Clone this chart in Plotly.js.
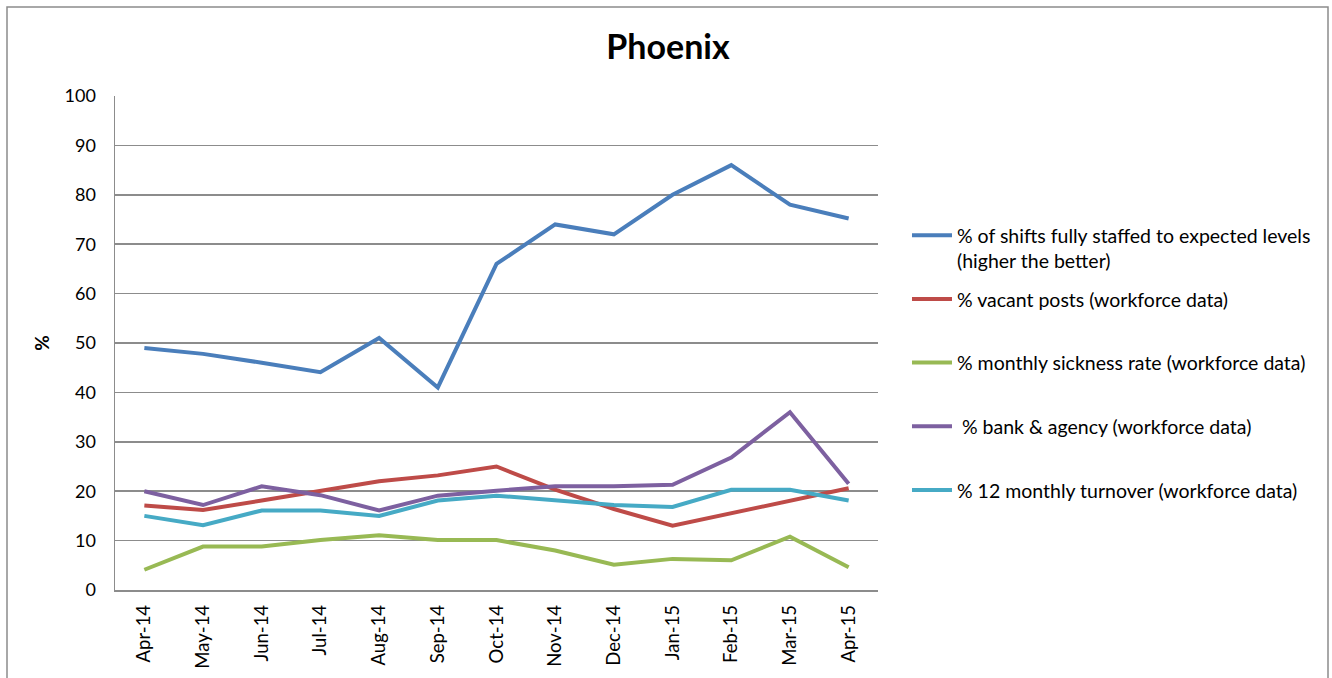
<!DOCTYPE html>
<html>
<head>
<meta charset="utf-8">
<script src="https://cdn.plot.ly/plotly-3.0.1.min.js"></script>
<style>
  html, body { margin: 0; padding: 0; background: #ffffff; }
  #chart { width: 1332px; height: 678px; }
</style>
</head>
<body>
<div id="chart"></div>
<script>
const months = ["Apr-14","May-14","Jun-14","Jul-14","Aug-14","Sep-14","Oct-14","Nov-14","Dec-14","Jan-15","Feb-15","Mar-15","Apr-15"];

const shiftsFullyStaffed = [49, 47.8, 46, 44.1, 51, 41, 66, 74, 72, 80, 86, 78, 75.2];
const vacantPosts        = [17.1, 16.2, 18.1, 20, 22, 23.2, 25, 20.3, 16.4, 13, 15.5, 18.1, 20.6];
const sicknessRate       = [4.1, 8.8, 8.8, 10.1, 11.1, 10.1, 10.1, 8, 5.1, 6.3, 6, 10.8, 4.6];
const bankAgency         = [20, 17.2, 21, 19.2, 16.1, 19.1, 20.1, 21, 21, 21.3, 26.8, 36, 21.5];
const turnover12         = [15, 13.1, 16.1, 16.1, 15, 18.1, 19.1, 18.1, 17.2, 16.8, 20.3, 20.3, 18.1];

const seriesNames = [
  "% of shifts fully staffed to expected levels<br>(higher the better)",
  "% vacant posts (workforce data)<br> ",
  "% monthly sickness rate (workforce data)<br> ",
  " % bank & agency (workforce data)<br> ",
  "% 12 monthly turnover (workforce data)<br> "
];
const seriesColors = ["#4a7ebb", "#be4b48", "#98b954", "#7d60a0", "#46aac5"];
const seriesValues = [shiftsFullyStaffed, vacantPosts, sicknessRate, bankAgency, turnover12];

const traces = seriesValues.map((vals, i) => ({
  type: "scatter",
  mode: "lines",
  x: months,
  y: vals,
  name: seriesNames[i],
  legendgroup: "g" + i,
  line: { color: seriesColors[i], width: 4 }
}));

const fontFam = "Lato, 'Liberation Sans', sans-serif";

const layout = {
  width: 1332,
  height: 678,
  margin: { l: 115, r: 454, t: 96, b: 88 },
  paper_bgcolor: "#ffffff",
  plot_bgcolor: "#ffffff",
  font: { family: fontFam, size: 18, color: "#000000" },
  title: {
    text: "<b>Phoenix</b>",
    font: { family: fontFam, size: 34, color: "#000000" },
    x: 0.5015, xref: "container", xanchor: "center",
    y: 0.931, yref: "container", yanchor: "middle"
  },
  xaxis: {
    type: "category",
    range: [-0.5, 12.5],
    tickangle: -90,
    showgrid: false,
    showline: true,
    linecolor: "#8c8c8c",
    linewidth: 1.5,
    ticks: "",
    ticklabelstandoff: 6,
    tickfont: { family: fontFam, size: 18.5, color: "#000000" },
    fixedrange: true
  },
  yaxis: {
    range: [0, 100],
    dtick: 10,
    showgrid: true,
    gridcolor: "#8c8c8c",
    gridwidth: 1.5,
    zeroline: false,
    showline: true,
    linecolor: "#8c8c8c",
    linewidth: 1.5,
    ticks: "",
    ticklabelstandoff: 14,
    tickfont: { family: fontFam, size: 18, color: "#000000" },
    title: { text: "<b>%</b>", font: { family: fontFam, size: 19, color: "#000000" }, standoff: 10 },
    fixedrange: true
  },
  showlegend: true,
  legend: {
    x: 1.038, xanchor: "left",
    y: 0.757, yanchor: "top",
    traceorder: "grouped",
    tracegroupgap: 10,
    valign: "top",
    itemwidth: 40,
    font: { family: fontFam, size: 19.5, color: "#000000" },
    bgcolor: "rgba(0,0,0,0)"
  },
  shapes: [{
    type: "rect", xref: "paper", yref: "paper",
    x0: (7 - 115) / 763, x1: (1328 - 115) / 763,
    y0: -0.3, y1: (590 - 7) / 494,
    line: { color: "#8c8c8c", width: 1.5 },
    fillcolor: "rgba(0,0,0,0)",
    layer: "below"
  }]
};

Plotly.newPlot("chart", traces, layout, { displayModeBar: false, staticPlot: true });
</script>
</body>
</html>
